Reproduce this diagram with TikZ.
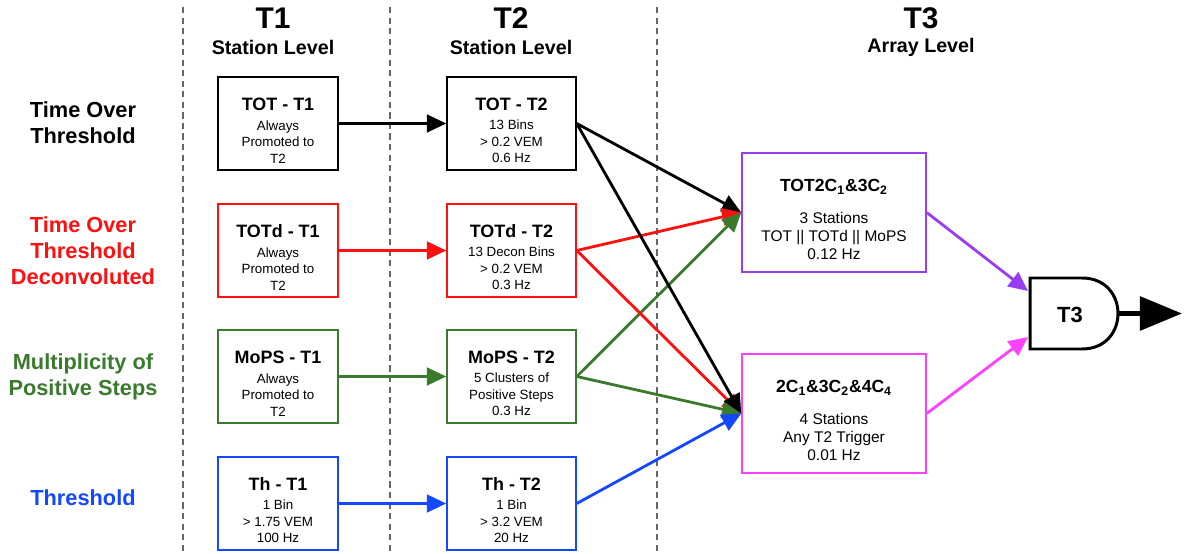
\documentclass[tikz,border=0pt]{standalone}
\usepackage{fontspec}
\setmainfont{Liberation Sans}
\usepackage{tikz}
\usetikzlibrary{arrows.meta}
\definecolor{totdred}{HTML}{FF1010}
\definecolor{mopsgreen}{HTML}{3A7A2C}
\definecolor{thblue}{HTML}{1448FF}
\definecolor{totpurple}{HTML}{9A3CF2}
\definecolor{anymagenta}{HTML}{FF40FF}

\begin{document}
\begin{tikzpicture}[x=0.02cm,y=-0.02cm]
\tikzstyle{hdr}=[font=\bfseries\fontsize{17}{19}\selectfont]
\tikzstyle{subhdr}=[font=\bfseries\fontsize{11.2}{13}\selectfont]
\tikzstyle{rowlabel}=[align=center, font=\bfseries\fontsize{12.4}{14.7}\selectfont]
\tikzstyle{stationbox}=[draw, line width=0.85pt, align=center, minimum height=1.86cm, inner sep=0pt, font=\fontsize{7.6}{9.4}\selectfont]
\tikzstyle{arraybox}=[draw, line width=0.85pt, align=center, minimum width=3.68cm, minimum height=2.38cm, inner sep=0pt, font=\fontsize{8.8}{10.2}\selectfont]
\tikzstyle{link}=[line width=1.6pt, -{Triangle[length=11pt,width=10pt]}]
\tikzstyle{divider}=[black!60, dash pattern=on 3.5pt off 2.5pt, line width=0.6pt]
\useasboundingbox (0,0) rectangle (1184,554);

\draw[divider] (183,7) -- (183,554);
\draw[divider] (390,7) -- (390,554);
\draw[divider] (657,7) -- (657,554);

\node[hdr] (t1head) at (273,18) {T1};
\node[subhdr] (t1sub) at (273,47) {Station Level};
\node[hdr] (t2head) at (511,18) {T2};
\node[subhdr] (t2sub) at (511,47) {Station Level};
\node[hdr] (t3head) at (921,18) {T3};
\node[subhdr] (t3sub) at (921,47) {Array Level};

\node[rowlabel] (totlabel) at (83,123) {Time Over\\Threshold};
\node[rowlabel, text=totdred] (totdlabel) at (83,251) {Time Over\\Threshold\\Deconvoluted};
\node[rowlabel, text=mopsgreen] (mopslabel) at (83,377) {Multiplicity of\\Positive Steps};
\node[rowlabel, text=thblue] (thlabel) at (83,498) {Threshold};

\node[stationbox, minimum width=2.4cm] (t1tot) at (278,123.5) {\mbox{}\\[5.9pt]{\bfseries\fontsize{10.2}{11}\selectfont TOT - T1}\\[1.5pt]Always\\Promoted to\\T2};
\node[stationbox, minimum width=2.4cm, draw=totdred] (t1totd) at (278,250.5) {\mbox{}\\[5.9pt]{\bfseries\fontsize{10.2}{11}\selectfont TOTd - T1}\\[1.5pt]Always\\Promoted to\\T2};
\node[stationbox, minimum width=2.4cm, draw=mopsgreen] (t1mops) at (278,376.5) {\mbox{}\\[5.9pt]{\bfseries\fontsize{10.2}{11}\selectfont MoPS - T1}\\[1.5pt]Always\\Promoted to\\T2};
\node[stationbox, minimum width=2.4cm, draw=thblue] (t1th) at (278,503.5) {\mbox{}\\[5.9pt]{\bfseries\fontsize{10.2}{11}\selectfont Th - T1}\\[1.5pt]1 Bin\\> 1.75 VEM\\100 Hz};

\node[stationbox, minimum width=2.58cm] (t2tot) at (511.5,123.5) {\mbox{}\\[5.9pt]{\bfseries\fontsize{10.2}{11}\selectfont TOT - T2}\\[1.5pt]13 Bins\\> 0.2 VEM\\0.6 Hz};
\node[stationbox, minimum width=2.58cm, draw=totdred] (t2totd) at (511.5,250.5) {\mbox{}\\[5.9pt]{\bfseries\fontsize{10.2}{11}\selectfont TOTd - T2}\\[1.5pt]13 Decon Bins\\> 0.2 VEM\\0.3 Hz};
\node[stationbox, minimum width=2.58cm, draw=mopsgreen] (t2mops) at (511.5,376.5) {\mbox{}\\[5.9pt]{\bfseries\fontsize{10.2}{11}\selectfont MoPS - T2}\\[1.5pt]5 Clusters of\\Positive Steps\\0.3 Hz};
\node[stationbox, minimum width=2.58cm, draw=thblue] (t2th) at (511.5,503.5) {\mbox{}\\[5.9pt]{\bfseries\fontsize{10.2}{11}\selectfont Th - T2}\\[1.5pt]1 Bin\\> 3.2 VEM\\20 Hz};

\node[arraybox, draw=totpurple] (t3tot) at (834,212.5) {\mbox{}\\[5.1pt]{\bfseries\fontsize{10}{11}\selectfont TOT2C\textsubscript{1}\&3C\textsubscript{2}}\\[8pt]3 Stations\\TOT || TOTd || MoPS\\0.12 Hz};
\node[arraybox, draw=anymagenta] (t3any) at (834,413.5) {\mbox{}\\[5.1pt]{\bfseries\fontsize{10}{11}\selectfont 2C\textsubscript{1}\&3C\textsubscript{2}\&4C\textsubscript{4}}\\[8pt]4 Stations\\Any T2 Trigger\\0.01 Hz};

\draw[line width=1.7pt] (1030,278) -- (1082,278) .. controls (1130,278) and (1130,349) .. (1082,349) -- (1030,349) -- cycle;
\node[font=\bfseries\fontsize{12.5}{14}\selectfont] (gate) at (1070,315) {T3};
\coordinate (gatein1) at (1028,291);
\coordinate (gatein2) at (1028,337);
\coordinate (gateout) at (1117,313.5);
\coordinate (outtip) at (1182,313.5);

\draw[link] (t1tot) -- (t2tot);
\draw[link, totdred] (t1totd) -- (t2totd);
\draw[link, mopsgreen] (t1mops) -- (t2mops);
\draw[link, thblue] (t1th) -- (t2th);

\draw[link] (t2tot.east) -- (t3tot.west);
\draw[link, totdred] (t2totd.east) -- (t3tot.west);
\draw[link, mopsgreen] (t2mops.east) -- (t3tot.west);
\draw[link, totdred] (t2totd.east) -- (t3any.west);
\draw[link, mopsgreen] (t2mops.east) -- (t3any.west);
\draw[link, thblue] (t2th.east) -- (t3any.west);
\draw[link] (t2tot.east) -- (t3any.west);

\draw[link, totpurple] (t3tot.east) -- (gatein1);
\draw[link, anymagenta] (t3any.east) -- (gatein2);
\draw[line width=3pt, -{Triangle[length=24pt,width=19pt]}] (gateout) -- (outtip);
\end{tikzpicture}
\end{document}
